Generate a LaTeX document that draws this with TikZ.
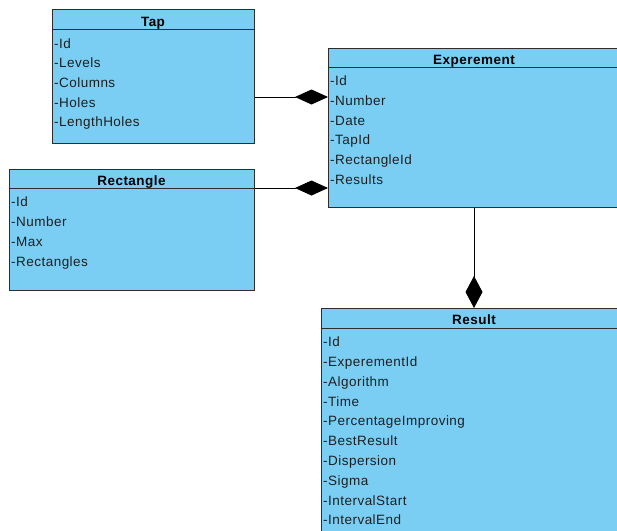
\documentclass[tikz,border=0pt]{standalone}
\usepackage{fontspec}
\setmainfont{Liberation Sans}[LetterSpace=3.5]
\usetikzlibrary{arrows.meta}
\definecolor{boxfill}{RGB}{122,206,244}
\definecolor{boxline}{RGB}{45,45,45}
\begin{document}
\begin{tikzpicture}[x=1pt,y=-1pt,
  umlbox/.style={draw=boxline,fill=boxfill,line width=1pt,inner sep=0pt,anchor=north west},
  headline/.style={draw=boxline,line width=1pt},
  titletext/.style={font=\fontsize{13.5}{16}\selectfont\bfseries,anchor=base,inner sep=0pt},
  attr/.style={font=\fontsize{13.5}{16}\selectfont,anchor=base west,inner sep=0pt,text=black!88},
  conn/.style={draw=black,line width=1pt,-{Diamond[length=33pt,width=15pt,fill=black]}}]
\useasboundingbox (0,0) rectangle (617,530);
\clip (0,0) rectangle (617,530);
\fill[white] (0,0) rectangle (617,530);

% Tap
\node[umlbox,minimum width=202pt,minimum height=134pt] (tap) at (52,9) {};
\draw[headline] (52,29) -- (254,29);
\node[titletext] (taptitle) at (153,26) {Tap};
\foreach \t [count=\i from 0] in {-Id,-Levels,-Columns,-Holes,-LengthHoles}
  \node[attr] (tap-\i) at (54,48+19.7*\i) {\t};

% Experement
\node[umlbox,minimum width=292pt,minimum height=159pt] (exp) at (328,48) {};
\draw[headline] (328,67) -- (620,67);
\node[titletext] (exptitle) at (474,64) {Experement};
\foreach \t [count=\i from 0] in {-Id,-Number,-Date,-TapId,-RectangleId,-Results}
  \node[attr] (exp-\i) at (330,85.7+19.7*\i) {\t};

% Rectangle
\node[umlbox,minimum width=245pt,minimum height=121pt] (rect) at (9,169) {};
\draw[headline] (9,188) -- (254,188);
\node[titletext] (recttitle) at (131.5,185) {Rectangle};
\foreach \t [count=\i from 0] in {-Id,-Number,-Max,-Rectangles}
  \node[attr] (rect-\i) at (11,206.7+19.8*\i) {\t};

% Result
\node[umlbox,minimum width=306pt,minimum height=240pt] (res) at (321,308) {};
\draw[headline] (321,328) -- (627,328);
\node[titletext] (restitle) at (474,324.3) {Result};
\foreach \t [count=\i from 0] in {-Id,-ExperementId,-Algorithm,-Time,-PercentageImproving,-BestResult,-Dispersion,-Sigma,-IntervalStart,-IntervalEnd}
  \node[attr] (res-\i) at (323,346.7+19.8*\i) {\t};

% connectors
\coordinate (c1) at (328,97);
\coordinate (c2) at (328,188);
\coordinate (c3) at (474,308);
\draw[conn] (tap.east |- c1) -- (exp.west |- c1);
\draw[conn] (rect.east |- c2) -- (exp.west |- c2);
\draw[conn,-{Diamond[length=32pt,width=17pt,fill=black]}] (exp.south -| c3) -- (res.north -| c3);
\end{tikzpicture}
\end{document}
